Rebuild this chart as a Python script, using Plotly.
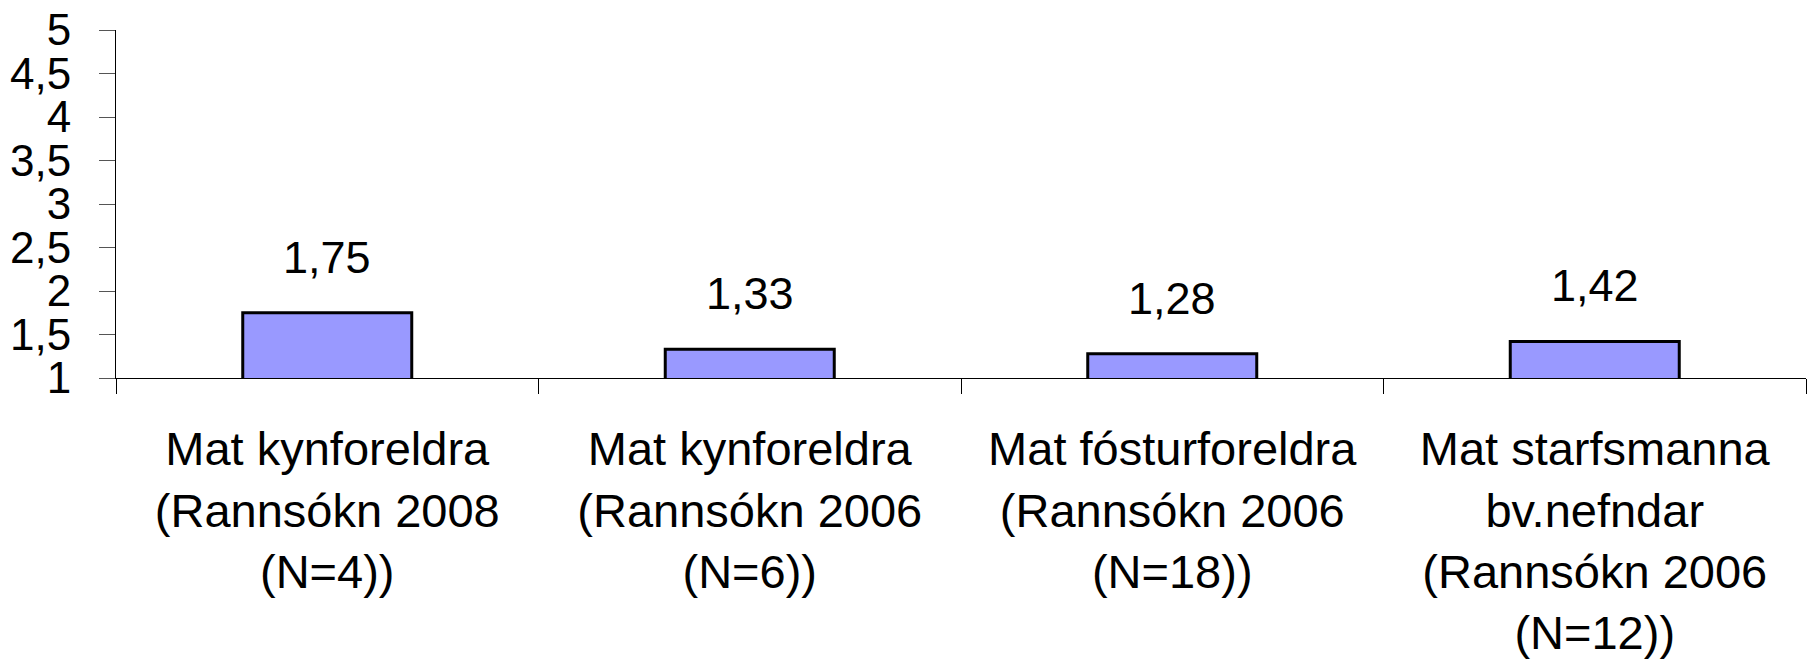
import plotly.graph_objects as go

categories = [
    "Mat kynforeldra<br>(Rannsókn 2008<br>(N=4))",
    "Mat kynforeldra<br>(Rannsókn 2006<br>(N=6))",
    "Mat fósturforeldra<br>(Rannsókn 2006<br>(N=18))",
    "Mat starfsmanna<br>bv.nefndar<br>(Rannsókn 2006<br>(N=12))",
]
values = [1.75, 1.33, 1.28, 1.42]
value_labels = ["1,75", "1,33", "1,28", "1,42"]
y_tick_vals = [1, 1.5, 2, 2.5, 3, 3.5, 4, 4.5, 5]
y_tick_text = ["1", "1,5", "2", "2,5", "3", "3,5", "4", "4,5", "5"]

FONT = "Liberation Sans, Arial, sans-serif"

fig = go.Figure()
fig.add_trace(go.Bar(
    x=categories,
    y=values,
    marker=dict(color="#9999FF", line=dict(color="black", width=3)),
    width=0.4,
))

for c, v, t in zip(categories, values, value_labels):
    fig.add_annotation(x=c, y=v, text=t, showarrow=False, yanchor="bottom",
                       yshift=28, font=dict(family=FONT, size=45, color="black"))

fig.update_layout(
    width=1818, height=662,
    margin=dict(l=108, r=20, t=22, b=292),
    paper_bgcolor="white", plot_bgcolor="white",
    showlegend=False,
    font=dict(family=FONT, color="black"),
)
fig.update_xaxes(
    type="category", range=[-0.5, 3.5], automargin=False,
    showline=True, linecolor="black", linewidth=1,
    ticks="outside", tickson="boundaries", ticklen=15, tickcolor="black", tickwidth=1,
    tickfont=dict(family=FONT, size=47, color="black"),
    showgrid=False, zeroline=False,
    ticklabelstandoff=30, ticklabeloverflow="allow",
)
fig.update_yaxes(
    range=[1, 5], tickvals=y_tick_vals, ticktext=y_tick_text, automargin=False,
    showline=True, linecolor="black", linewidth=1,
    ticks="outside", ticklen=16, tickcolor="#555555", tickwidth=1,
    tickfont=dict(family=FONT, size=44, color="black"),
    showgrid=False, zeroline=False,
    ticklabelstandoff=19, ticklabeloverflow="allow",
)

fig.write_html("out.html")
